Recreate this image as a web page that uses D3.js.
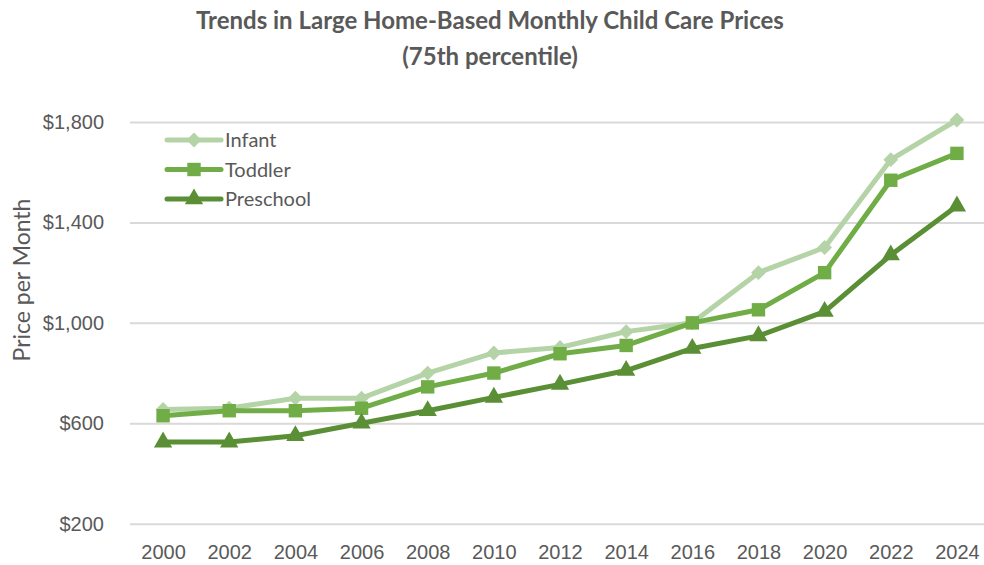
<!DOCTYPE html>
<html lang="en">
<head>
  <meta charset="UTF-8" />
  <title>Trends in Large Home-Based Monthly Child Care Prices</title>
  <script src="https://d3js.org/d3.v7.min.js"></script>
  <style>
    body { margin: 0; background: #fff; font-family: Lato, "Open Sans", sans-serif; }
    .title { font-size: 24px; font-weight: bold; fill: #595959; }
    .tick text { font-size: 20px; fill: #595959; }
    .axis-label { font-size: 23px; fill: #595959; }
    .legend text { font-size: 20px; fill: #595959; }
  </style>
</head>
<body>
  <svg id="chart"></svg>
  <script>
    const years     = [2000, 2002, 2004, 2006, 2008, 2010, 2012, 2014, 2016, 2018, 2020, 2022, 2024];
    const infant    = [655, 660, 700, 700, 800, 880, 902, 965, 1000, 1200, 1300, 1650, 1808];
    const toddler   = [630, 650, 650, 660, 745, 800, 877, 910, 1000, 1052, 1200, 1568, 1675];
    const preschool = [525, 525, 550, 600, 650, 703, 755, 810, 898, 948, 1045, 1270, 1465];
    const yTicks    = [200, 600, 1000, 1400, 1800];

    const series = [
      { name: "Infant",    values: infant,    color: "#b4d3a6", symbol: d3.symbolDiamond2, size: 140 },
      { name: "Toddler",   values: toddler,   color: "#70ad47", symbol: d3.symbolSquare,   size: 180 },
      { name: "Preschool", values: preschool, color: "#5a8f36", symbol: d3.symbolTriangle, size: 145 }
    ];

    const W = 984, H = 565;
    const margin = { top: 122, right: -6, bottom: 42, left: 130 };
    const width  = W - margin.left - margin.right;
    const height = H - margin.top - margin.bottom;

    const svg = d3.select("#chart").attr("width", W).attr("height", H);

    svg.append("text").attr("class", "title")
      .attr("x", 490).attr("y", 29).attr("text-anchor", "middle")
      .text("Trends in Large Home-Based Monthly Child Care Prices");
    svg.append("text").attr("class", "title")
      .attr("x", 490).attr("y", 65).attr("text-anchor", "middle")
      .text("(75th percentile)");

    const g = svg.append("g").attr("transform", `translate(${margin.left},${margin.top})`);

    const x = d3.scalePoint().domain(years).range([0, width]).padding(0.5);
    const y = d3.scaleLinear().domain([1800, 200]).range([0, height + 0.7]);

    // gridlines + y labels
    const yAxis = g.append("g")
      .call(d3.axisLeft(y).tickValues(yTicks).tickSize(-width)
        .tickFormat(d => "$" + d3.format(",")(d)));
    yAxis.select(".domain").remove();
    yAxis.selectAll(".tick line").attr("stroke", "#d9d9d9").attr("stroke-width", 2);
    yAxis.selectAll(".tick text").attr("x", -26);

    const xAxis = g.append("g")
      .attr("transform", `translate(0,${y(200)})`)
      .call(d3.axisBottom(x).tickSize(0).tickPadding(21));
    xAxis.select(".domain").remove();

    svg.append("text").attr("class", "axis-label")
      .attr("transform", "rotate(-90)")
      .attr("x", -280).attr("y", 30)
      .attr("text-anchor", "middle")
      .text("Price per Month");

    const line = d3.line().x((d, i) => x(years[i])).y(d => y(d));

    series.forEach(s => {
      const sg = g.append("g");
      sg.append("path")
        .datum(s.values)
        .attr("fill", "none")
        .attr("stroke", s.color)
        .attr("stroke-width", 5)
        .attr("stroke-linejoin", "round")
        .attr("d", line);
      sg.selectAll("path.marker")
        .data(s.values)
        .enter().append("path")
          .attr("class", "marker")
          .attr("transform", (d, i) => `translate(${x(years[i])},${y(d)})`)
          .attr("d", d3.symbol().type(s.symbol).size(s.size))
          .attr("fill", s.color);
    });

    // legend
    const legend = svg.append("g").attr("class", "legend")
      .attr("transform", "translate(167,140)");
    series.forEach((s, i) => {
      const lg = legend.append("g").attr("transform", `translate(0,${i * 29.5})`);
      lg.append("line").attr("x1", 0).attr("x2", 54)
        .attr("stroke", s.color).attr("stroke-width", 5).attr("stroke-linecap", "round");
      lg.append("path").attr("transform", "translate(27,0)")
        .attr("d", d3.symbol().type(s.symbol).size(s.size)).attr("fill", s.color);
      lg.append("text").attr("x", 58).attr("dy", "0.35em").text(s.name);
    });
  </script>
</body>
</html>
